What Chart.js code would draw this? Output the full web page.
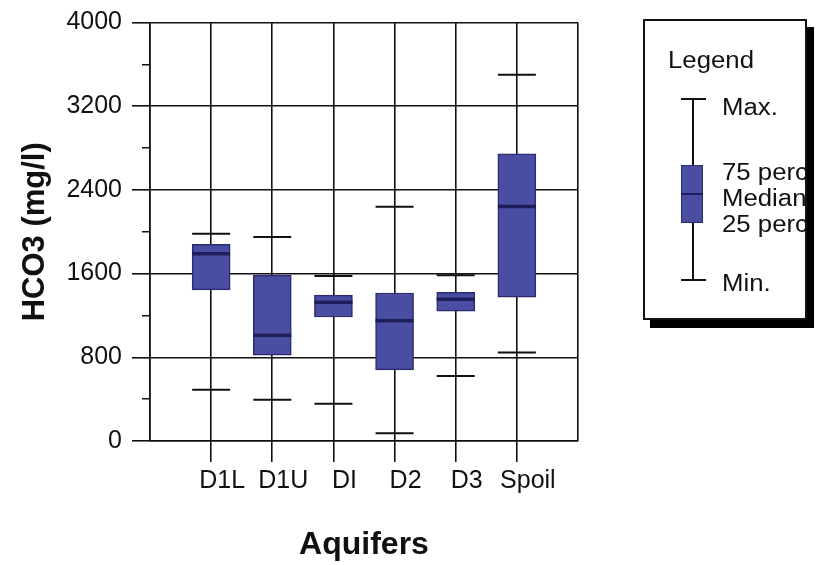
<!DOCTYPE html>
<html>
<head>
<meta charset="utf-8">
<script src="https://cdn.jsdelivr.net/npm/chart.js@4.4.1/dist/chart.umd.min.js"></script>
<style>
  html, body { margin: 0; padding: 0; background: #fff; }
  body { width: 817px; height: 565px; position: relative; overflow: hidden; font-family: "Liberation Sans", Arial, sans-serif; }
  #chartWrap { position: absolute; left: 0; top: 0; width: 817px; height: 565px; }
  #legendBox {
    position: absolute; left: 643px; top: 19px; width: 164px; height: 301px;
    box-sizing: border-box; border: 2px solid #111; background: #fff;
    box-shadow: 7px 8px 0 #000; overflow: hidden;
  }
  #legendBox .txt {
    position: absolute; font-size: 23px; line-height: 26px; color: #111;
    white-space: nowrap; transform: scaleX(1.12); transform-origin: left center;
  }
  #legendBox .blk { position: absolute; }
</style>
</head>
<body>
<div id="chartWrap"><canvas id="chartBox" width="817" height="565"></canvas></div>

<div id="legendBox">
  <div class="txt" style="left:23px; top:26px;">Legend</div>
  <div class="blk" style="left:47px; top:78px; width:2px; height:181px; background:#111;"></div>
  <div class="blk" style="left:36px; top:77px; width:25px; height:2px; background:#111;"></div>
  <div class="blk" style="left:36px; top:258px; width:25px; height:2px; background:#111;"></div>
  <div class="blk" style="left:36px; top:144px; width:22px; height:58px; box-sizing:border-box; background:#4a4ea3; border:1px solid #2b2b6e;"></div>
  <div class="blk" style="left:36px; top:172px; width:22px; height:2px; background:#1e1e5a;"></div>
  <div class="txt" style="left:77px; top:73px;">Max.</div>
  <div class="txt" style="left:77px; top:138px;">75 percentile</div>
  <div class="txt" style="left:77px; top:164px;">Median</div>
  <div class="txt" style="left:77px; top:190px;">25 percentile</div>
  <div class="txt" style="left:77px; top:249px;">Min.</div>
</div>

<script>
const aquifers   = ["D1L", "D1U", "DI", "D2", "D3", "Spoil"];
const maxVals    = [1980, 1950, 1578, 2240, 1584, 3500];
const q3Vals     = [1880, 1585, 1395, 1415, 1420, 2745];
const medianVals = [1790, 1010, 1325, 1150, 1355, 2242];
const q1Vals     = [1445, 820, 1185, 680, 1240, 1375];
const minVals    = [490, 395, 357, 75, 622, 845];
const yTicks     = [0, 800, 1600, 2400, 3200, 4000];

const ink = "#111";
const boxFill = "#4a4ea3";
const boxEdge = "#2b2b6e";
const medianInk = "#1e1e5a";

const pos = (i) => i + 1; // category slot on the linear x axis

const boxes = aquifers.map((_, i) => ({ x: pos(i), y: [q1Vals[i], q3Vals[i]] }));
const medians = aquifers.map((_, i) => ({ x: pos(i), y: medianVals[i] }));
const maxCaps = aquifers.map((_, i) => ({ x: pos(i), y: maxVals[i] }));
const minCaps = aquifers.map((_, i) => ({ x: pos(i), y: minVals[i] }));

const capStyle = {
  type: "scatter",
  pointStyle: "line",
  pointRadius: 19,
  pointHoverRadius: 19,
  borderColor: ink,
  borderWidth: 2,
  order: 2
};

new Chart(document.getElementById("chartBox"), {
  type: "bar",
  data: {
    datasets: [
      {
        label: "IQR",
        data: boxes,
        backgroundColor: boxFill,
        borderColor: boxEdge,
        borderWidth: 1.5,
        borderSkipped: false,
        barThickness: 38,
        order: 3
      },
      { ...capStyle, label: "Max", data: maxCaps },
      { ...capStyle, label: "Min", data: minCaps },
      {
        type: "scatter",
        label: "Median",
        data: medians,
        pointStyle: "line",
        pointRadius: 19,
        pointHoverRadius: 19,
        borderColor: medianInk,
        borderWidth: 3.5,
        order: 1
      }
    ]
  },
  options: {
    responsive: false,
    animation: false,
    layout: { padding: { left: 0, top: 20, right: 239, bottom: 0 } },
    plugins: { legend: { display: false }, tooltip: { enabled: false } },
    scales: {
      x: {
        type: "linear",
        min: 0,
        max: 7,
        offset: false,
        afterFit: (s) => { s.height = 124; s.paddingLeft = 0; s.paddingRight = 0; },
        ticks: {
          stepSize: 1,
          autoSkip: false,
          maxRotation: 0,
          padding: 4,
          labelOffset: 11,
          color: ink,
          font: { family: "Liberation Sans", size: 25 },
          callback: (v) => aquifers[v - 1] ?? ""
        },
        grid: {
          offset: false,
          color: ink,
          lineWidth: 1.6,
          tickLength: 21,
          tickWidth: 1.6,
          tickColor: (ctx) => (ctx.index >= 1 && ctx.index <= aquifers.length ? ink : "rgba(0,0,0,0)")
        },
        border: { display: true, color: ink, width: 1.6 },
        title: {
          display: true,
          text: "Aquifers",
          color: ink,
          font: { family: "Liberation Sans", size: 32, weight: "bold" },
          padding: { top: 0, bottom: 1 }
        }
      },
      y: {
        min: 0,
        max: 4000,
        afterFit: (s) => { s.width = 150; s.paddingTop = 0; s.paddingBottom = 0; },
        ticks: {
          stepSize: 400,
          autoSkip: false,
          padding: 10,
          color: ink,
          font: { family: "Liberation Sans", size: 25 },
          callback: (v) => (yTicks.includes(v) ? v : "")
        },
        grid: {
          color: (ctx) => (yTicks.includes(ctx.tick.value) ? ink : "rgba(0,0,0,0)"),
          lineWidth: 1.6,
          tickLength: 18,
          tickWidth: 1.6,
          tickColor: ink,
          tickBorderDash: (ctx) => (yTicks.includes(ctx.tick.value) ? [] : [0, 10, 8, 10])
        },
        border: { display: true, color: ink, width: 1.6 },
        title: {
          display: true,
          text: "HCO3 (mg/l)",
          color: ink,
          font: { family: "Liberation Sans", size: 31, weight: "bold" },
          padding: { top: 17, bottom: 0 }
        }
      }
    }
  }
});
</script>
</body>
</html>
